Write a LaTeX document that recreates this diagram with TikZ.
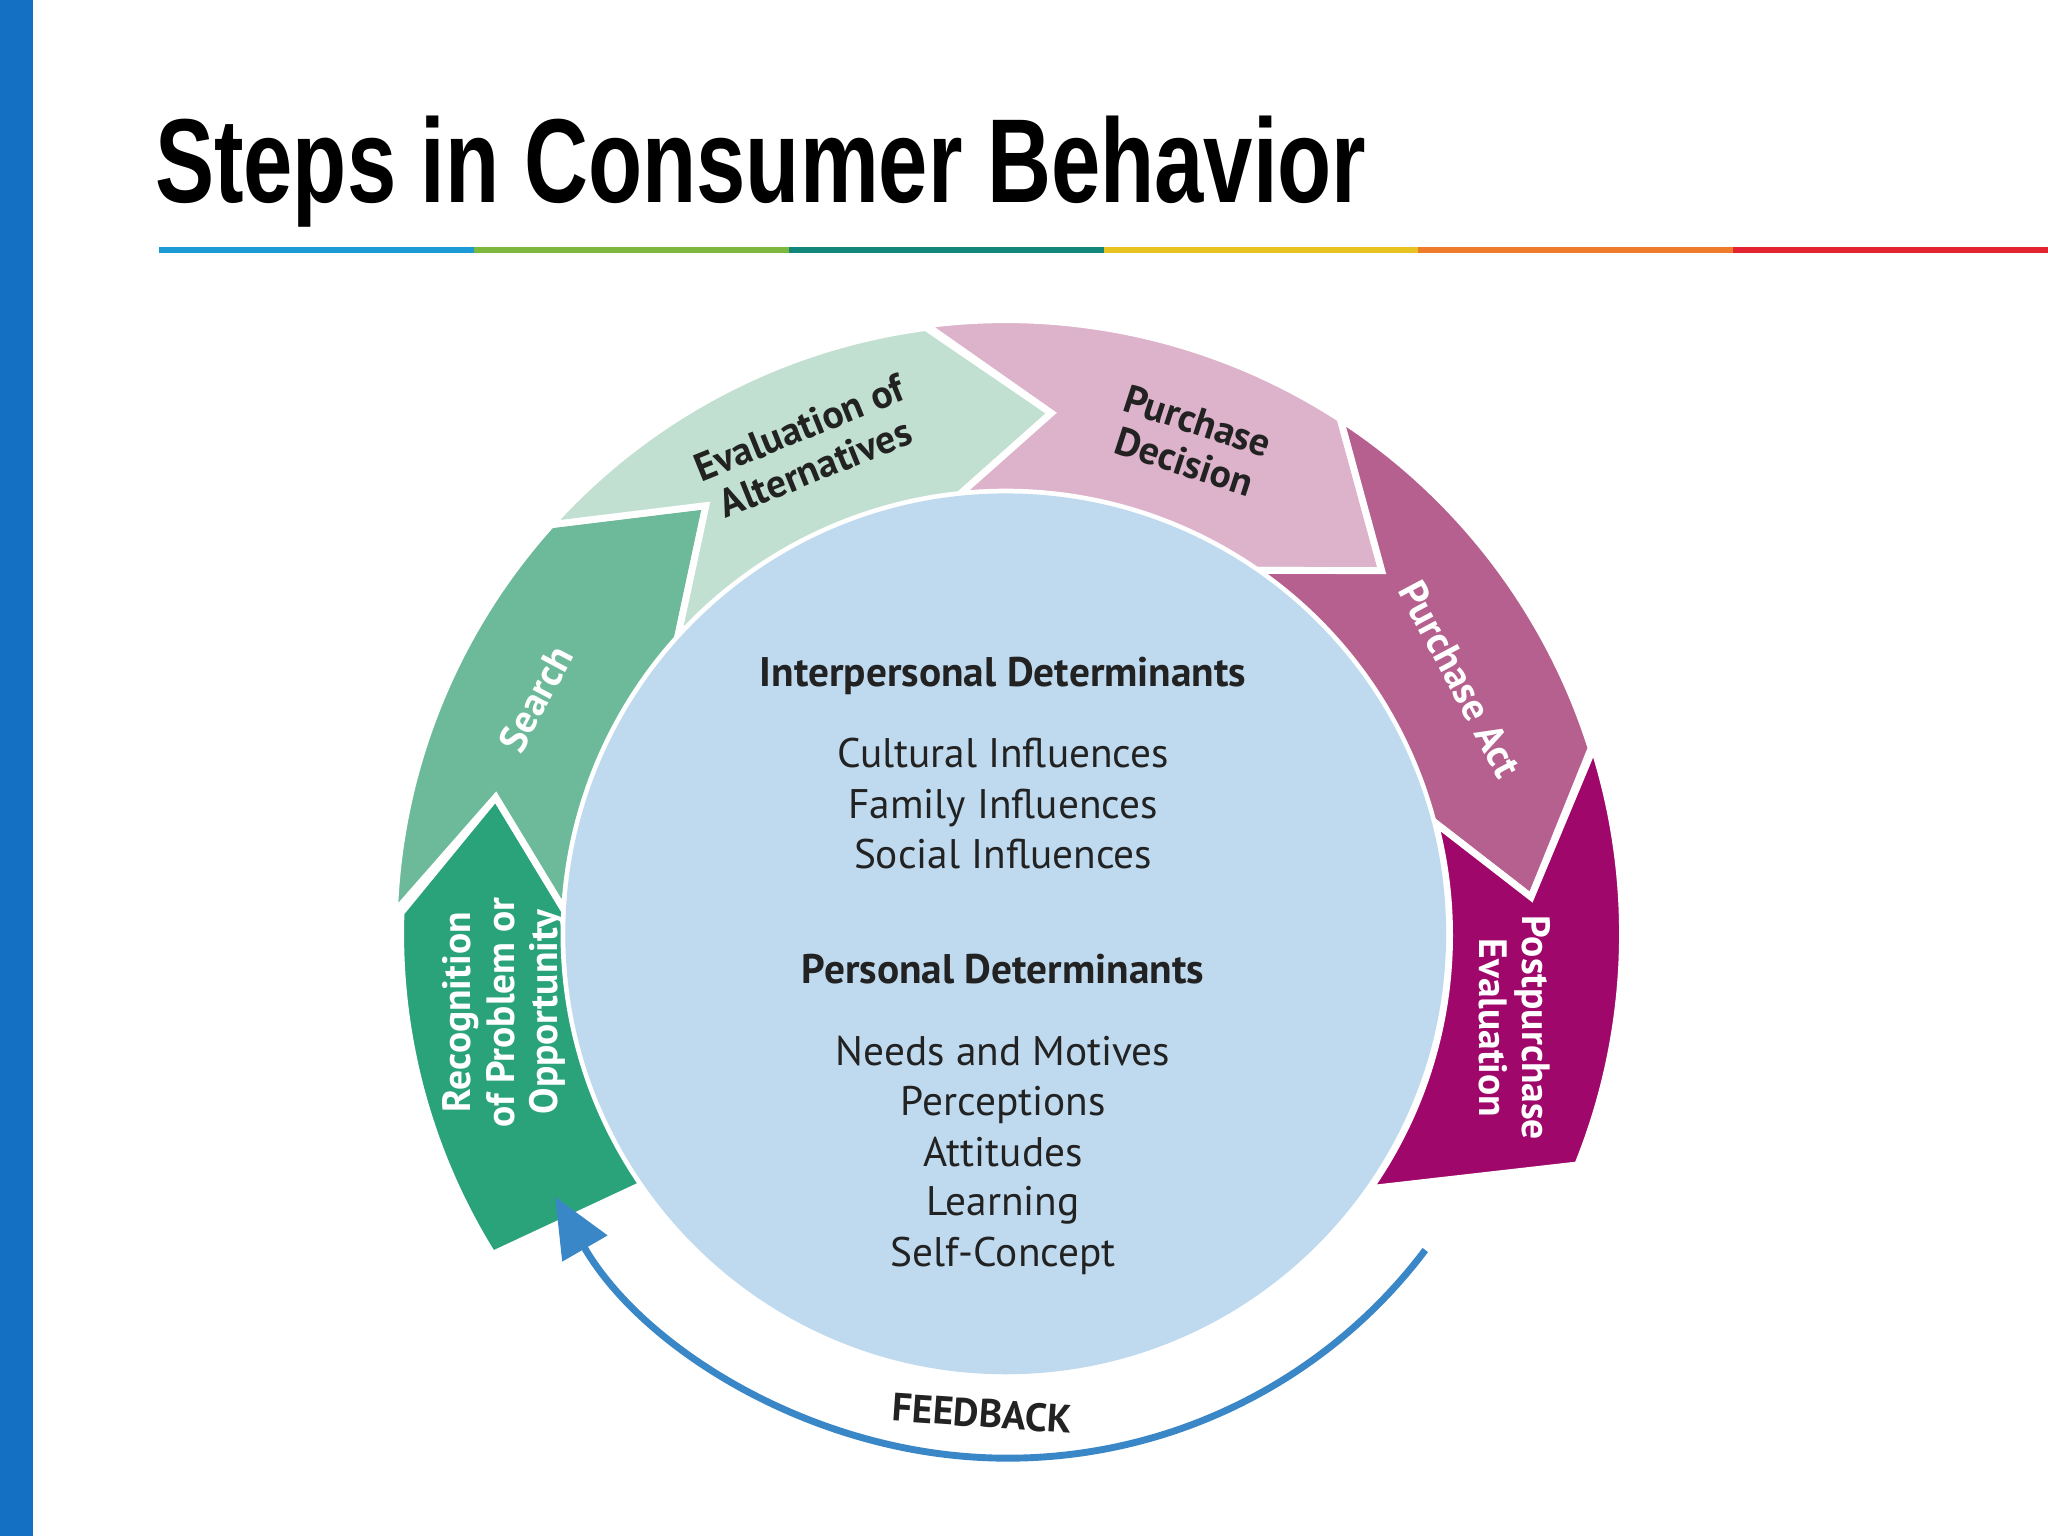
\documentclass[tikz,border=0pt]{standalone}
\usepackage{fontspec}
\usepackage{graphicx}
\setmainfont{PT Sans}
\newfontfamily\titlefont{Liberation Sans}
\usetikzlibrary{arrows.meta,calc}
\definecolor{barblue}{HTML}{1470C2}
\definecolor{cRec}{HTML}{2AA37A}
\definecolor{cSea}{HTML}{6DBA9A}
\definecolor{cEva}{HTML}{C1E0D2}
\definecolor{cPD}{HTML}{DDB3CB}
\definecolor{cPA}{HTML}{B5608E}
\definecolor{cPost}{HTML}{A0076A}
\definecolor{cCirc}{HTML}{BFDAEE}
\definecolor{cFb}{HTML}{3A87C8}
\definecolor{txt}{HTML}{222222}
\begin{document}
\begin{tikzpicture}[x=0.01cm,y=0.01cm,
  seg/.style={draw=white,line width=1.5pt,line join=miter},
  lab/.style={font=\fontsize{8.6}{9.4}\selectfont\bfseries,align=center,inner sep=0pt},
  ctext/.style={font=\fontsize{9}{10}\selectfont,text=txt,inner sep=0pt,anchor=base}]
\useasboundingbox (0,0) rectangle (1568,1176);
\fill[white] (0,0) rectangle (1568,1176);
\fill[barblue] (0,0) rectangle (25,1176);
% title
\node[anchor=base west,inner sep=0pt,font=\titlefont\bfseries\fontsize{26}{28}\selectfont] (title) at (118,1021)
  {\resizebox{9.27cm}{\height}{Steps in Consumer Behavior}};
\foreach \c/\i in {1C9AD6/0,7DB83E/1,11867A/2,E8C320/3,EE7C2A/4,E3232F/5}{
  \definecolor{tmp}{HTML}{\c}
  \fill[tmp] (122+\i*241,982) rectangle (122+\i*241+241,987);
}
\coordinate (C) at (770,461);
% segments
\path[seg,fill=cRec] ($(C)+(212:4.63cm)$) arc[start angle=212,end angle=178,radius=4.63cm]
  -- ($(C)+(165:4.04cm)$) -- ($(C)+(177:3.38cm)$) arc[start angle=177,end angle=214.6,radius=3.38cm] -- cycle;
\path[seg,fill=cSea] ($(C)+(178:4.68cm)$) arc[start angle=178,end angle=138,radius=4.68cm]
  -- ($(C)+(125:4.0cm)$) -- ($(C)+(138:3.38cm)$) arc[start angle=138,end angle=177,radius=3.38cm]
  -- ($(C)+(165:4.04cm)$) -- cycle;
\path[seg,fill=cEva] ($(C)+(138:4.68cm)$) arc[start angle=138,end angle=97.5,radius=4.68cm]
  -- ($(C)+(85:4.0cm)$) -- ($(C)+(96:3.38cm)$) arc[start angle=96,end angle=138,radius=3.38cm]
  -- ($(C)+(125:4.0cm)$) -- cycle;
\path[seg,fill=cPD] ($(C)+(97.5:4.7cm)$) arc[start angle=97.5,end angle=57,radius=4.7cm]
  -- ($(C)+(44:4.0cm)$) -- ($(C)+(55.4:3.38cm)$) arc[start angle=55.4,end angle=96,radius=3.38cm]
  -- ($(C)+(85:4.0cm)$) -- cycle;
\path[seg,fill=cPA] ($(C)+(57:4.7cm)$) arc[start angle=57,end angle=17.6,radius=4.7cm]
  -- ($(C)+(4:4.03cm)$) -- ($(C)+(14.8:3.38cm)$) arc[start angle=14.8,end angle=55.4,radius=3.38cm]
  -- ($(C)+(44:4.0cm)$) -- cycle;
\path[seg,fill=cPost] ($(C)+(17.6:4.72cm)$) arc[start angle=17.6,end angle=-22,radius=4.72cm]
  -- ($(C)+(-35:3.4cm)$) arc[start angle=-35,end angle=14.8,radius=3.38cm]
  -- ($(C)+(4:4.03cm)$) -- cycle;
% centre
\fill[cCirc] (C) circle[radius=3.37cm];
% labels
\node[lab,text=white,rotate=90] (rec) at (386,401) {Recognition\\of Problem or\\Opportunity};
\node[lab,text=white,rotate=62] (sea) at (410,641) {Search};
\node[lab,text=txt,rotate=22] (eva) at (618,833) {Evaluation of\\Alternatives};
\node[lab,text=txt,rotate=-18] (pd) at (912,838) {Purchase\\Decision};
\node[lab,text=white,rotate=-62] (pa) at (1118,656) {Purchase Act};
\node[lab,text=white,rotate=-90] (post) at (1160,389) {Postpurchase\\Evaluation};
% centre text
\node[ctext,font=\fontsize{9}{10}\selectfont\bfseries] (h1) at (768,650) {Interpersonal Determinants};
\node[ctext] (l1) at (768,588) {Cultural Influences};
\node[ctext] (l2) at (768,549) {Family Influences};
\node[ctext] (l3) at (768,511) {Social Influences};
\node[ctext,font=\fontsize{9}{10}\selectfont\bfseries] (h2) at (768,423) {Personal Determinants};
\node[ctext] (l4) at (768,360) {Needs and Motives};
\node[ctext] (l5) at (768,322) {Perceptions};
\node[ctext] (l6) at (768,283) {Attitudes};
\node[ctext] (l7) at (768,245) {Learning};
\node[ctext] (l8) at (768,206) {Self-Concept};
% feedback
\coordinate (fb1) at ($(C)+(-37:4.02cm)$);
\draw[cFb,line width=1.5pt,-{Triangle[length=13pt,width=11pt]}] (fb1) arc[start angle=-37,end angle=-150,radius=4.0cm];
\node[font=\fontsize{8.6}{10}\selectfont\bfseries,text=txt,rotate=-4,inner sep=0pt] (fb) at (752,94) {FEEDBACK};
\end{tikzpicture}
\end{document}
